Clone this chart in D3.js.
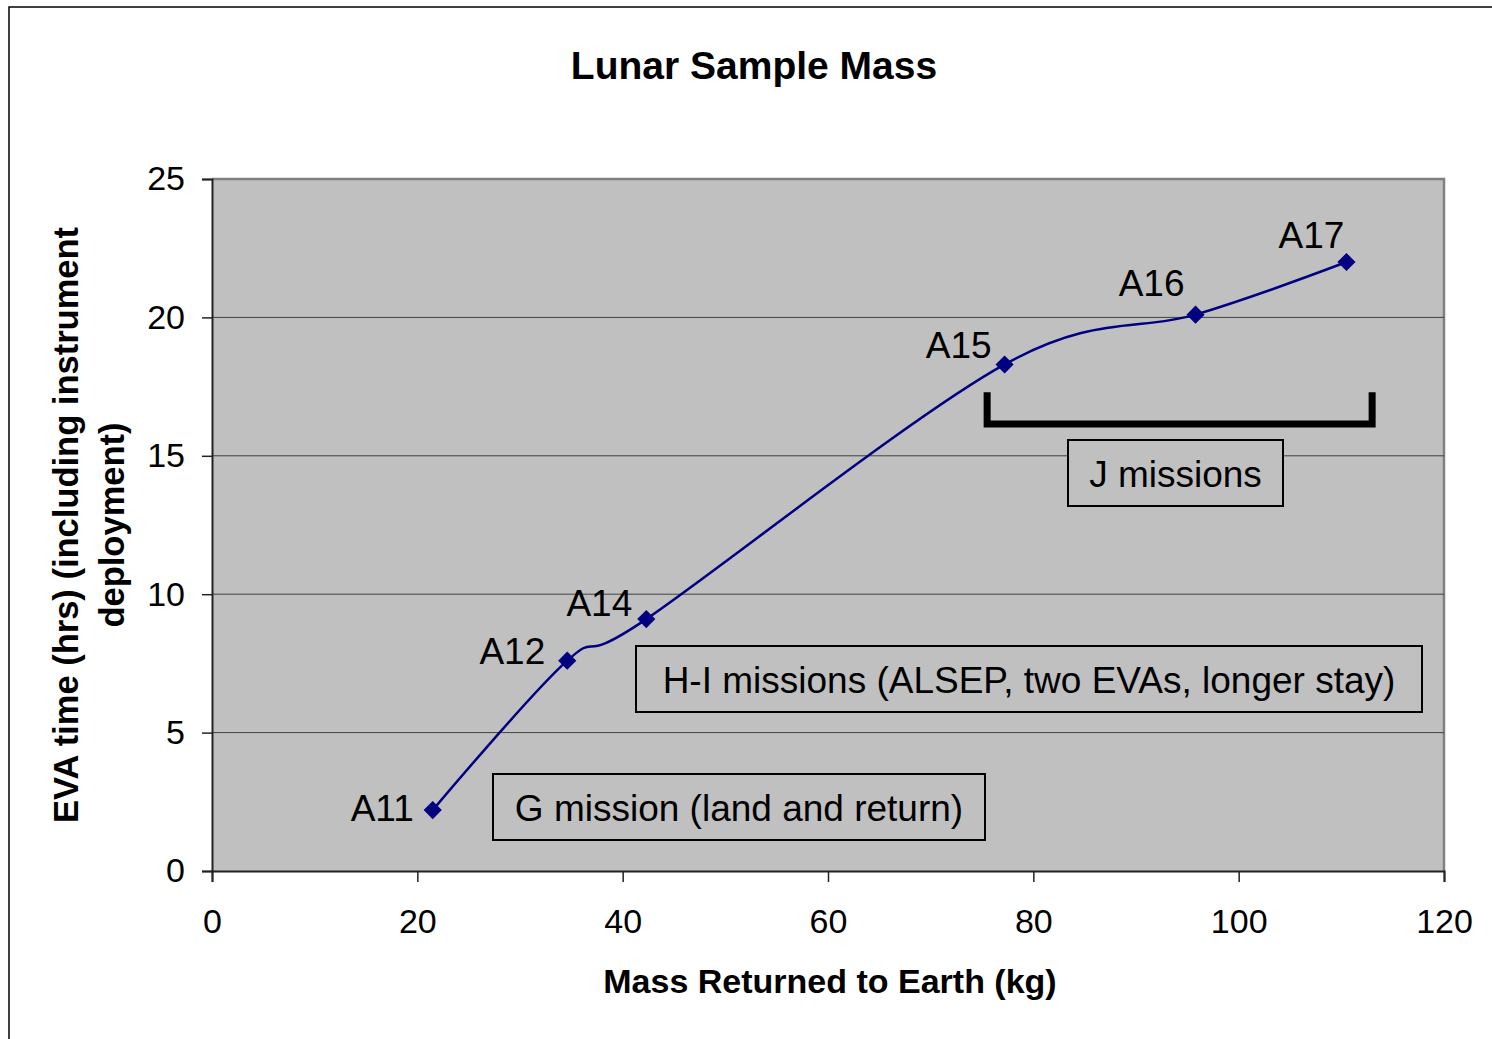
<!DOCTYPE html>
<html>
  <head>
    <meta charset="utf-8">
    <style>
      body { margin: 0; background: #fff; }
      text { font-family: "Liberation Sans", Arial, sans-serif; }
    </style>
  </head>
  <body>
    <script src="https://cdn.jsdelivr.net/npm/d3@7"></script>
    <script>
      var missions = ['A11', 'A12', 'A14', 'A15', 'A16', 'A17'];
      var massKg = [21.5, 34.6, 42.3, 77.2, 95.8, 110.5];
      var evaHrs = [2.2, 7.6, 9.1, 18.3, 20.1, 22.0];
      var xTicks = [0, 20, 40, 60, 80, 100, 120];
      var yTicks = [0, 5, 10, 15, 20, 25];

      // hand-placed label offsets (px) like in the original sheet
      var labelDx = [-19, -22, -14, -13, -11, -2];
      var labelDy = [11, 3, -3, -6, -19, -14];

      var W = 1492, H = 1039;
      var pLeft = 212, pRight = 1444, pTop = 179, pBottom = 871;

      var svg = d3.select('body').append('svg')
        .attr('width', W).attr('height', H);

      // outer chart border
      svg.append('rect')
        .attr('x', 9).attr('y', 7)
        .attr('width', W + 10).attr('height', H + 10)
        .attr('fill', 'none').attr('stroke', '#000').attr('stroke-width', 1.5);

      var x = d3.scaleLinear().domain([0, 120]).range([pLeft, pRight]);
      var y = d3.scaleLinear().domain([0, 25]).range([pBottom, pTop]);

      // plot area
      svg.append('rect')
        .attr('x', pLeft).attr('y', pTop)
        .attr('width', pRight - pLeft).attr('height', pBottom - pTop)
        .attr('fill', '#c0c0c0');
      svg.append('path')
        .attr('d', 'M' + pLeft + ',' + pTop + 'H' + pRight + 'V' + pBottom)
        .attr('fill', 'none').attr('stroke', '#808080').attr('stroke-width', 2.5);

      // gridlines
      svg.append('g').selectAll('line')
        .data(yTicks.filter(function (d) { return d > 0 && d < 25; }))
        .enter().append('line')
        .attr('x1', pLeft).attr('x2', pRight)
        .attr('y1', function (d) { return y(d); })
        .attr('y2', function (d) { return y(d); })
        .attr('stroke', '#404040').attr('stroke-width', 1);

      var xAxis = svg.append('g')
        .attr('transform', 'translate(0,' + pBottom + ')')
        .call(d3.axisBottom(x).tickValues(xTicks).tickSize(11).tickPadding(27));
      var yAxis = svg.append('g')
        .attr('transform', 'translate(' + pLeft + ',0)')
        .call(d3.axisLeft(y).tickValues(yTicks).tickSize(10).tickPadding(17));

      [xAxis, yAxis].forEach(function (a) {
        a.select('.domain').attr('stroke', '#222').attr('stroke-width', 2);
        a.selectAll('.tick line').attr('stroke', '#222').attr('stroke-width', 1.5);
        a.selectAll('.tick text')
          .attr('fill', '#000')
          .style('font-family', '"Liberation Sans", Arial, sans-serif')
          .style('font-size', '34px');
      });

      // J mission bracket
      svg.append('path')
        .attr('d', 'M' + x(75.5) + ',' + y(17.3) + 'V' + y(16.15) +
                   'H' + x(113) + 'V' + y(17.3))
        .attr('fill', 'none').attr('stroke', '#000').attr('stroke-width', 7);

      // annotation boxes
      var notes = [
        { text: 'G mission (land and return)', x0: 493, x1: 985, y0: 774, y1: 840 },
        { text: 'H-I missions (ALSEP, two EVAs, longer stay)', x0: 636, x1: 1422, y0: 646, y1: 712 },
        { text: 'J missions', x0: 1068, x1: 1283, y0: 440, y1: 506 }
      ];
      var ng = svg.append('g').selectAll('g').data(notes).enter().append('g');
      ng.append('rect')
        .attr('x', function (d) { return d.x0; })
        .attr('y', function (d) { return d.y0; })
        .attr('width', function (d) { return d.x1 - d.x0; })
        .attr('height', function (d) { return d.y1 - d.y0; })
        .attr('fill', '#c0c0c0').attr('stroke', '#000').attr('stroke-width', 2);
      ng.append('text')
        .attr('x', function (d) { return (d.x0 + d.x1) / 2; })
        .attr('y', function (d) { return d.y1 - 19; })
        .attr('text-anchor', 'middle')
        .style('font-size', '37px')
        .text(function (d) { return d.text; });

      // series
      var pts = missions.map(function (m, i) {
        return { name: m, mass: massKg[i], eva: evaHrs[i], dx: labelDx[i], dy: labelDy[i] };
      });

      var line = d3.line()
        .x(function (d) { return x(d.mass); })
        .y(function (d) { return y(d.eva); })
        .curve(d3.curveCatmullRom.alpha(0));

      svg.append('path').datum(pts)
        .attr('d', line)
        .attr('fill', 'none').attr('stroke', '#000080').attr('stroke-width', 2.5);

      svg.append('g').selectAll('path')
        .data(pts).enter().append('path')
        .attr('d', d3.symbol().type(d3.symbolDiamond2).size(210))
        .attr('transform', function (d) {
          return 'translate(' + x(d.mass) + ',' + y(d.eva) + ')';
        })
        .attr('fill', '#000080');

      svg.append('g').selectAll('text')
        .data(pts).enter().append('text')
        .attr('x', function (d) { return x(d.mass) + d.dx; })
        .attr('y', function (d) { return y(d.eva) + d.dy; })
        .attr('text-anchor', 'end')
        .style('font-size', '37px')
        .text(function (d) { return d.name; });

      // titles
      svg.append('text')
        .attr('x', 754).attr('y', 79)
        .attr('text-anchor', 'middle')
        .style('font-size', '39px').style('font-weight', 'bold')
        .text('Lunar Sample Mass');

      svg.append('text')
        .attr('x', 830).attr('y', 993)
        .attr('text-anchor', 'middle')
        .style('font-size', '34px').style('font-weight', 'bold')
        .text('Mass Returned to Earth (kg)');

      var yt = svg.append('text')
        .attr('transform', 'translate(78,525) rotate(-90)')
        .attr('text-anchor', 'middle')
        .style('font-size', '34.5px').style('font-weight', 'bold');
      yt.append('tspan').attr('x', 0).attr('y', 0)
        .text('EVA time (hrs) (including instrument');
      yt.append('tspan').attr('x', 0).attr('y', 46)
        .text('deployment)');
    </script>
  </body>
</html>
